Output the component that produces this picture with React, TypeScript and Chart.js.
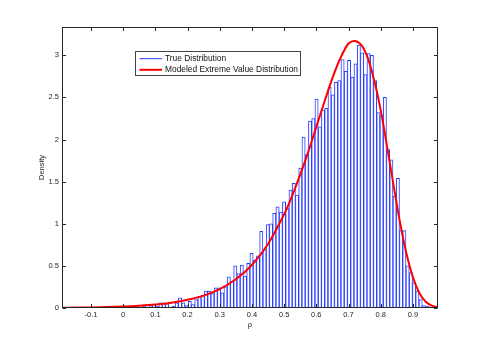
import { useEffect, useRef } from "react";
import { Chart, registerables } from "chart.js";

Chart.register(...registerables);

const FONT = "'Liberation Sans', Arial, Helvetica, sans-serif";

// Histogram bin centres (rho) and densities
const binCenters = [
  -0.0356, -0.0255, -0.0154, -0.0053, 0.0049, 0.015, 0.0251, 0.0352, 0.0453, 0.0554,
  0.0655, 0.0756, 0.0857, 0.0958, 0.1059, 0.116, 0.1261, 0.1362, 0.1463, 0.1564,
  0.1665, 0.1766, 0.1867, 0.1968, 0.2069, 0.217, 0.2271, 0.2372, 0.2473, 0.2574,
  0.2675, 0.2776, 0.2877, 0.2978, 0.3079, 0.318, 0.3281, 0.3382, 0.3483, 0.3584,
  0.3685, 0.3786, 0.3887, 0.3988, 0.4089, 0.419, 0.4291, 0.4392, 0.4493, 0.4594,
  0.4695, 0.4796, 0.4897, 0.4998, 0.5099, 0.52, 0.5301, 0.5402, 0.5503, 0.5604,
  0.5705, 0.5806, 0.5907, 0.6008, 0.6109, 0.621, 0.6311, 0.6412, 0.6513, 0.6614,
  0.6715, 0.6816, 0.6917, 0.7018, 0.7119, 0.722, 0.7321, 0.7422, 0.7523, 0.7624,
  0.7725, 0.7826, 0.7927, 0.8028, 0.8129, 0.823, 0.8331, 0.8432, 0.8533, 0.8634,
  0.8735, 0.8836, 0.8937, 0.9038, 0.9139, 0.924, 0.9341, 0.9442, 0.9543, 0.9644,
];
const binDensity = [
  0.003, 0.004, 0.003, 0.006, 0.005, 0.01, 0.005, 0.01, 0.015, 0.01,
  0.02, 0.012, 0.03, 0.04, 0.02, 0.06, 0.06, 0.05, 0.01, 0.02,
  0.06, 0.12, 0.06, 0.03, 0.08, 0.04, 0.1, 0.14, 0.15, 0.2,
  0.2, 0.17, 0.24, 0.24, 0.18, 0.25, 0.37, 0.32, 0.5, 0.41,
  0.51, 0.38, 0.53, 0.65, 0.57, 0.62, 0.91, 0.69, 0.99, 1.0,
  1.125, 1.2, 1.14, 1.26, 1.18, 1.4, 1.48, 1.34, 1.66, 2.03,
  1.82, 2.22, 2.25, 2.48, 2.15, 2.35, 2.37, 2.62, 2.53, 2.68,
  2.7, 2.95, 2.81, 2.94, 2.74, 2.9, 3.12, 3.03, 2.77, 3.02,
  3.0, 2.7, 2.32, 2.29, 2.5, 1.88, 1.76, 1.33, 1.54, 0.92,
  0.92, 0.5, 0.42, 0.3, 0.2, 0.1, 0.03, 0.02, 0.01, 0.005,
];

// Modeled extreme value distribution curve
const curveX = [
  -0.19, -0.15, -0.1, -0.05, 0, 0.05, 0.1, 0.15, 0.2, 0.25, 0.3, 0.35, 0.4, 0.45, 0.5,
  0.525, 0.55, 0.575, 0.6, 0.625, 0.65, 0.675, 0.7, 0.72, 0.74, 0.76, 0.78, 0.8, 0.82,
  0.84, 0.86, 0.88, 0.9, 0.92, 0.94, 0.96, 0.98,
];
const curveY = [
  0.003, 0.005, 0.007, 0.011, 0.017, 0.027, 0.041, 0.063, 0.097, 0.147, 0.224, 0.341, 0.511, 0.76, 1.113,
  1.332, 1.583, 1.854, 2.15, 2.446, 2.73, 2.968, 3.14, 3.17, 3.12, 2.966, 2.7, 2.35, 1.913,
  1.455, 1.017, 0.646, 0.366, 0.178, 0.074, 0.025, 0.007,
];

const xTickValues = [-0.1, 0, 0.1, 0.2, 0.3, 0.4, 0.5, 0.6, 0.7, 0.8, 0.9];
const yTickValues = [0, 0.5, 1, 1.5, 2, 2.5, 3];
const xRange = [-0.19, 0.978];
const yRange = [0, 3.336];
const seriesLabels = ["True Distribution", "Modeled Extreme Value Distribution"];
const xTitle = "ρ";
const yTitle = "Density";

const BLUE = "rgb(40,60,255)";
const RED = "#ff0000";
const INK = "#262626";

const decor = {
  id: "matlabDecor",
  afterDraw(chart: any) {
    const { ctx, chartArea: a, scales } = chart;
    const xs = scales.x;
    const ys = scales.y;
    ctx.save();
    // axes box
    const L = Math.round(a.left) + 0.5;
    const R = Math.round(a.right) - 0.5;
    const T = Math.round(a.top) + 0.5;
    const B = Math.round(a.bottom) - 0.5;
    ctx.strokeStyle = INK;
    ctx.lineWidth = 1;
    ctx.strokeRect(L, T, R - L, B - T);
    // inward ticks on all four sides
    const tl = 3.5;
    ctx.beginPath();
    for (const v of xTickValues) {
      const p = Math.round(xs.getPixelForValue(v)) + 0.5;
      ctx.moveTo(p, B);
      ctx.lineTo(p, B - tl);
      ctx.moveTo(p, T);
      ctx.lineTo(p, T + tl);
    }
    for (const v of yTickValues) {
      const p = Math.round(ys.getPixelForValue(v)) + 0.5;
      ctx.moveTo(L, p);
      ctx.lineTo(L + tl, p);
      ctx.moveTo(R, p);
      ctx.lineTo(R - tl, p);
    }
    ctx.stroke();

    // axis titles
    ctx.fillStyle = INK;
    ctx.font = `7.5px ${FONT}`;
    ctx.textAlign = "center";
    ctx.textBaseline = "middle";
    ctx.fillText(xTitle, (a.left + a.right) / 2, 325);
    ctx.save();
    ctx.translate(41.7, (a.top + a.bottom) / 2);
    ctx.rotate(-Math.PI / 2);
    ctx.fillText(yTitle, 0, 0);
    ctx.restore();

    // legend
    const bx = 135.5, by = 51.5, bw = 165, bh = 24;
    ctx.fillStyle = "#ffffff";
    ctx.fillRect(bx, by, bw, bh);
    ctx.strokeStyle = "#444";
    ctx.lineWidth = 1;
    ctx.strokeRect(bx, by, bw, bh);
    ctx.beginPath();
    ctx.strokeStyle = BLUE;
    ctx.lineWidth = 1;
    ctx.moveTo(139.5, 58.7);
    ctx.lineTo(162, 58.7);
    ctx.stroke();
    ctx.beginPath();
    ctx.strokeStyle = RED;
    ctx.lineWidth = 2;
    ctx.moveTo(139.5, 69.8);
    ctx.lineTo(162, 69.8);
    ctx.stroke();
    ctx.fillStyle = "#111";
    ctx.font = `8.4px ${FONT}`;
    ctx.textAlign = "left";
    ctx.textBaseline = "middle";
    ctx.fillText(seriesLabels[0], 165, 59);
    ctx.fillText(seriesLabels[1], 165, 70);
    ctx.restore();
  },
};

export default function App() {
  const ref = useRef<HTMLCanvasElement | null>(null);

  useEffect(() => {
    if (!ref.current) return;
    const bars = binCenters.map((x, i) => ({ x, y: binDensity[i] }));
    const curve = curveX.map((x, i) => ({ x, y: curveY[i] }));
    const chart = new Chart(ref.current, {
      type: "bar",
      data: {
        datasets: [
          {
            type: "bar",
            label: seriesLabels[0],
            data: bars as any,
            backgroundColor: "#ffffff",
            borderColor: BLUE,
            borderWidth: 1,
            borderSkipped: false,
            barPercentage: 1,
            categoryPercentage: 1,
            grouped: false,
            order: 1,
          } as any,
          {
            type: "line",
            label: seriesLabels[1],
            data: curve as any,
            borderColor: RED,
            borderWidth: 2,
            pointRadius: 0,
            tension: 0.3,
            fill: false,
            order: 0,
          } as any,
        ],
      },
      options: {
        responsive: false,
        animation: false,
        events: [],
        layout: { padding: { left: 0, right: 47, top: 27, bottom: 0 } },
        plugins: { legend: { display: false }, tooltip: { enabled: false } },
        scales: {
          x: {
            type: "linear",
            min: xRange[0],
            max: xRange[1],
            offset: false,
            grid: { display: false, drawTicks: false },
            border: { display: false },
            afterBuildTicks: (s: any) => {
              s.ticks = xTickValues.map((v) => ({ value: v }));
            },
            afterFit: (s: any) => {
              s.height = 38;
            },
            ticks: {
              autoSkip: false,
              maxRotation: 0,
              padding: 2.5,
              color: INK,
              font: { family: FONT, size: 7.5 },
              callback: (v: any) => String(v),
            },
          },
          y: {
            type: "linear",
            min: yRange[0],
            max: yRange[1],
            grid: { display: false, drawTicks: false },
            border: { display: false },
            afterBuildTicks: (s: any) => {
              s.ticks = yTickValues.map((v) => ({ value: v }));
            },
            afterFit: (s: any) => {
              s.width = 62;
            },
            ticks: {
              autoSkip: false,
              padding: 3,
              color: INK,
              font: { family: FONT, size: 7.5 },
              callback: (v: any) => String(v),
            },
          },
        },
      },
      plugins: [decor],
    });
    return () => chart.destroy();
  }, []);

  return (
    <div style={{ position: "absolute", left: 0, top: 0, width: 485, height: 346, background: "#fff" }}>
      <canvas ref={ref} width={485} height={346} style={{ display: "block" }} />
    </div>
  );
}
